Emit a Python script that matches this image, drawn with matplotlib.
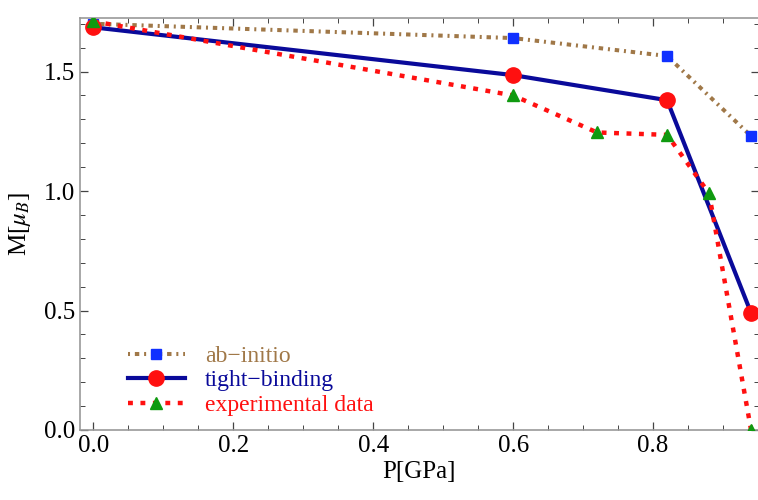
import matplotlib
matplotlib.use("Agg")
import matplotlib.pyplot as plt
from matplotlib.ticker import MultipleLocator, FormatStrFormatter

plt.rcParams['font.family'] = ['Liberation Serif', 'DejaVu Serif']
plt.rcParams['mathtext.fontset'] = 'stix'

ab_x = [0.0, 0.6, 0.82, 0.94]
ab_y = [1.70, 1.64, 1.565, 1.23]
tb_x = [0.0, 0.6, 0.82, 0.94]
tb_y = [1.685, 1.485, 1.38, 0.49]
ex_x = [0.0, 0.6, 0.72, 0.82, 0.88, 0.94]
ex_y = [1.71, 1.40, 1.245, 1.235, 0.99, 0.0]

fig = plt.figure(figsize=(7.58, 5.0), dpi=100)
ax = fig.add_axes([0.1055, 0.14, 0.8955, 0.824])

brown = '#A07848'
navy = '#0A0A9A'
red = '#FF1010'
green = '#109A10'

ax.plot(ab_x, ab_y, color=brown, lw=2.9, linestyle=(0, (0.5, 1.2, 1.1, 1.2)),
        marker='s', ms=7, mfc='#1030FF', mec='#1030FF', label='ab\u2212initio', zorder=2)
ax.plot(tb_x, tb_y, color=navy, lw=3, linestyle='-',
        marker='o', ms=11, mfc=red, mec=red, label='tight\u2212binding', zorder=3)
ax.plot(ex_x, ex_y, color=red, lw=3.2, linestyle=(0, (1.1, 1.7)),
        marker='^', ms=8, mfc=green, mec=green, label='experimental data', zorder=4)

ax.set_xlim(-0.019, 0.951)
ax.set_ylim(0.0, 1.724)
ax.xaxis.set_major_locator(MultipleLocator(0.2))
ax.xaxis.set_minor_locator(MultipleLocator(0.05))
ax.yaxis.set_major_locator(MultipleLocator(0.5))
ax.yaxis.set_minor_locator(MultipleLocator(0.1))
ax.xaxis.set_major_formatter(FormatStrFormatter('%.1f'))
ax.yaxis.set_major_formatter(FormatStrFormatter('%.1f'))

for sp in ax.spines.values():
    sp.set_color('#999999')
    sp.set_linewidth(1.2)
ax.tick_params(which='both', direction='in', color='#444444', labelsize=18,
               top=True, right=True, labeltop=False, labelright=False)
ax.tick_params(which='major', length=6, width=0.9)
ax.tick_params(which='minor', length=3.5, width=0.7)

ax.set_xlabel('P[GPa]', fontsize=18, labelpad=3)
ax.set_ylabel(r'M[$\mu_B$]', fontsize=18, labelpad=8)

leg = ax.legend(loc='lower left', bbox_to_anchor=(0.05, 0.0), frameon=False, fontsize=17,
                handlelength=2.4, handletextpad=0.85, labelspacing=0.12, borderaxespad=0.2)
for t, c in zip(leg.get_texts(), [brown, navy, red]):
    t.set_color(c)

fig.savefig('out.png', dpi=100)
